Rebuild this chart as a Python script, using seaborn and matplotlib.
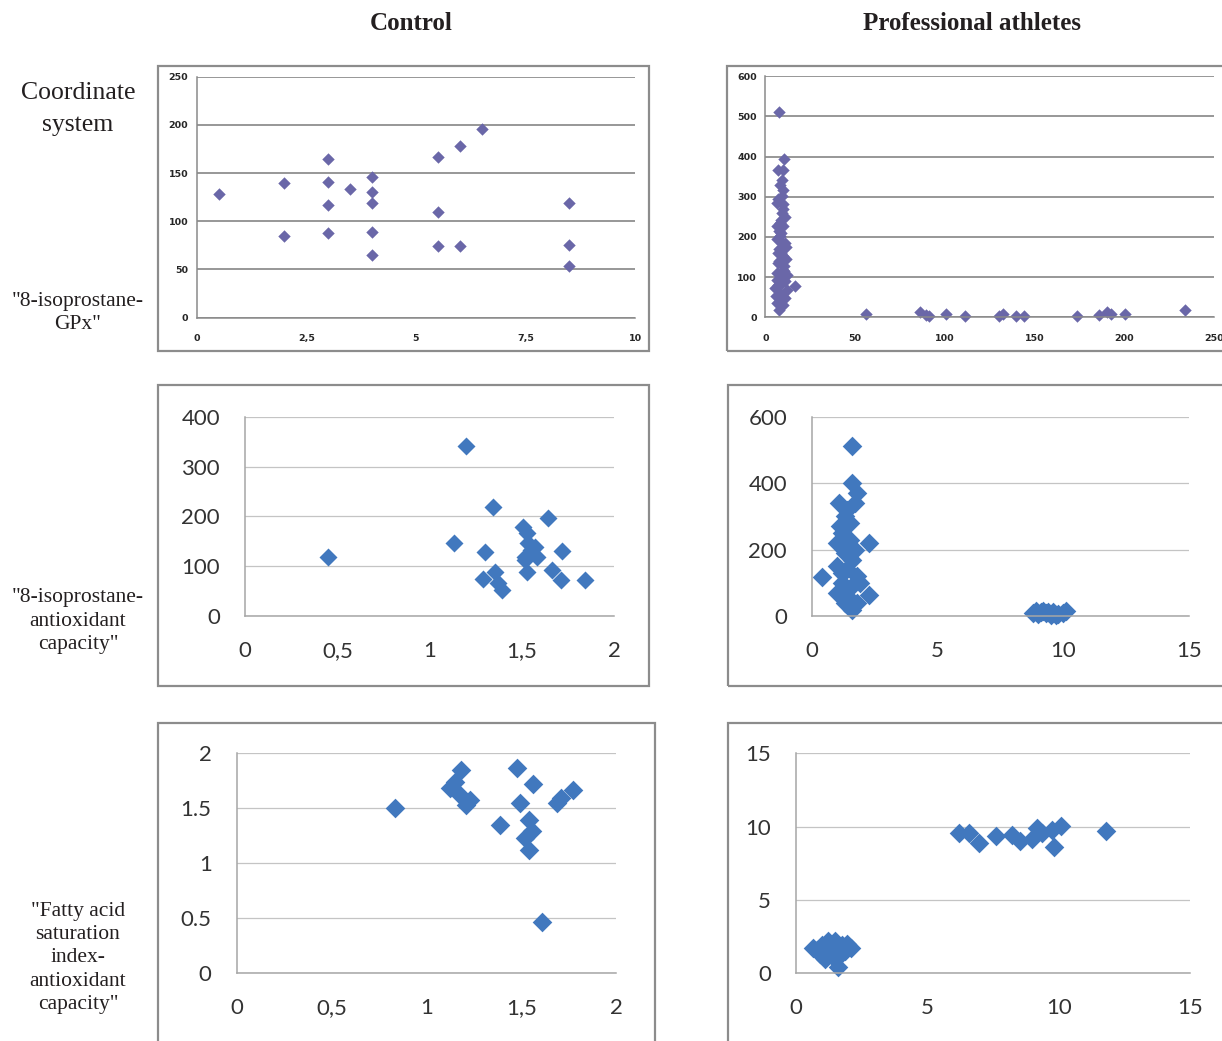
import matplotlib
matplotlib.use("Agg")
import matplotlib.pyplot as plt
import seaborn as sns
from matplotlib.patches import Rectangle

sns.set_style("white")
plt.rcParams["font.family"] = ["Lato", "DejaVu Sans"]

W, H = 1222, 1041

# --- data ---
# row 1, "8-isoprostane-GPx"
gpx_ctrl_x = [0.5, 2, 2, 3, 3, 3, 3, 3.5, 4, 4, 4, 4, 4, 5.5, 5.5, 5.5, 6, 6, 6.5, 8.5, 8.5, 8.5]
gpx_ctrl_y = [128, 140, 85, 165, 141, 117, 88, 134, 146, 130, 119, 89, 65, 167, 110, 74, 178, 74, 196, 119, 75, 54]

gpx_ath_x = [7.6, 10.6, 7.2, 10, 9.1, 9.7, 6.7, 10, 9.1, 6.3, 10, 8.2, 11, 7.8, 10, 7.2, 9.7, 11.9,
             6.7, 9.1, 16.5, 5.4, 8.2, 11, 6.7, 7.8, 11.9, 5.9, 8.6, 9.5, 7.1, 10.4, 6.3, 11.3, 7.4, 9.3,
             8.0, 9.8, 7.0, 10.8, 8.4, 9.0, 6.5, 11.5, 8.8, 7.5, 10.2, 9.4, 6.9, 10.9, 8.1, 9.6,
             56, 86, 89.6, 91, 100.7, 111.5, 130.5, 132.5, 140, 144, 174, 186, 190.5, 192.5, 200.7, 234]
gpx_ath_y = [512, 395, 367, 367, 343, 318, 285, 281, 260, 227, 227, 202, 185, 169, 152, 136, 119, 106,
             93, 85, 78, 73, 60, 48, 35, 18, 68, 52, 242, 302, 160, 127, 110, 144, 214, 185,
             330, 270, 295, 250, 235, 210, 195, 175, 160, 140, 115, 100, 80, 90, 45, 30,
             9, 12, 5, 2, 7, 4, 4, 9, 4, 4, 4, 5, 13, 7, 7, 19]

# row 2, "8-isoprostane-antioxidant capacity"
iso_ctrl_x = [0.45, 1.195, 1.345, 1.13, 1.30, 1.29, 1.354, 1.37, 1.39, 1.507, 1.525, 1.53, 1.516,
              1.55, 1.58, 1.525, 1.516, 1.64, 1.715, 1.66, 1.71, 1.84, 1.57]
iso_ctrl_y = [119, 342, 219, 147, 129, 74, 89, 66, 52, 179, 166, 146, 119, 132, 119, 89, 112, 196,
              131, 92, 72, 72, 139]

iso_ath_x = [0.4, 1.6, 1.6, 1.8, 1.06, 1.3, 1.5, 1.2, 1.0, 1.5, 2.26, 1.3, 1.6, 1.0, 1.4, 1.8, 1.2,
             1.6, 1.0, 1.4, 2.26, 1.6, 1.8, 1.3, 1.7, 1.9, 1.1, 1.4, 1.7, 1.2,
             8.8, 9.0, 9.2, 9.3, 9.5, 9.6, 9.8, 10.0, 10.1, 9.1, 8.9, 9.4, 9.7]
iso_ath_y = [118, 512, 399, 369, 339, 300, 280, 250, 220, 230, 219, 190, 170, 150, 140, 120, 100,
             90, 70, 60, 63, 18, 40, 40, 200, 100, 270, 320, 340, 130,
             10, 5, 15, 8, 3, 12, 6, 10, 14, 12, 14, 12, 2]

# row 3, "Fatty acid saturation index-antioxidant capacity"
fa_ctrl_x = [0.835, 1.183, 1.125, 1.15, 1.178, 1.21, 1.23, 1.48, 1.564, 1.494, 1.39, 1.54, 1.555,
             1.52, 1.54, 1.608, 1.687, 1.775, 1.71]
fa_ctrl_y = [1.506, 1.848, 1.688, 1.74, 1.62, 1.53, 1.58, 1.864, 1.72, 1.545, 1.35, 1.39, 1.29,
             1.23, 1.12, 0.464, 1.545, 1.667, 1.59]

fa_ath_x = [6.19, 6.57, 6.95, 7.6, 8.21, 8.53, 8.97, 9.16, 9.73, 9.8, 10.1, 11.8, 9.35,
            0.65, 0.9, 1.0, 1.2, 1.25, 1.4, 1.5, 1.6, 1.55, 1.75, 2.1, 1.85, 1.1, 1.35, 0.8, 1.65, 1.95]
fa_ath_y = [9.55, 9.55, 8.86, 9.39, 9.43, 9.02, 9.16, 9.89, 9.77, 8.64, 10.05, 9.7, 9.55,
            1.7, 1.3, 1.9, 2.2, 1.5, 1.1, 2.2, 0.45, 1.6, 1.9, 1.75, 1.5, 1.0, 1.8, 1.6, 1.2, 2.0]

col_titles = ["Control", "Professional athletes"]
row_labels = ["Coordinate\nsystem", "\"8-isoprostane-\nGPx\"",
              "\"8-isoprostane-\nantioxidant\ncapacity\"",
              "\"Fatty acid\nsaturation\nindex-\nantioxidant\ncapacity\""]

fig = plt.figure(figsize=(W / 100, H / 100), dpi=100)


def px_axes(x0, y0, x1, y1):
    return fig.add_axes([x0 / W, 1 - y1 / H, (x1 - x0) / W, (y1 - y0) / H])


def frame(x0, y0, x1, y1):
    fig.patches.append(Rectangle((x0 / W, 1 - y1 / H), (x1 - x0) / W, (y1 - y0) / H,
                                 transform=fig.transFigure, fill=False,
                                 edgecolor="#8c8c8c", lw=1.6, zorder=0))


def excel_style(ax, xlim, ylim, xticks, xlabels, yticks, ylabels, old=False):
    ax.set_xlim(xlim)
    ax.set_ylim(ylim)
    ax.set_xticks(xticks, xlabels)
    ax.set_yticks(yticks, ylabels)
    ax.set_xlabel("")
    ax.set_ylabel("")
    ax.spines["top"].set_visible(False)
    ax.spines["right"].set_visible(False)
    ax.set_axisbelow(True)
    ax.patch.set_alpha(0)
    if old:
        ax.grid(axis="y", color="#7a7a7a", lw=1.1)
        for s in ["left", "bottom"]:
            ax.spines[s].set_color("#8a8a8a")
            ax.spines[s].set_linewidth(1.1)
        ax.tick_params(direction="out", length=3, width=1, color="#8a8a8a", labelsize=6.8)
        ax.tick_params(axis="y", pad=3)
        ax.tick_params(axis="x", pad=9)
        for t in ax.get_xticklabels() + ax.get_yticklabels():
            t.set_family("DejaVu Sans")
            t.set_fontweight("bold")
    else:
        ax.grid(axis="y", color="#c4c4c4", lw=0.9)
        for s in ["left", "bottom"]:
            ax.spines[s].set_color("#a6a6a6")
            ax.spines[s].set_linewidth(1.1)
        ax.tick_params(direction="out", length=7, width=1, color="#a6a6a6",
                       labelsize=16, labelcolor="#333333", pad=11)


old_col = "#6a67a8"
new_col = "#4178be"

# row 1
frame(158, 66, 649, 351)
frame(727, 66, 1240, 351)
ax = px_axes(196.7, 76.7, 635, 317.7)
sns.scatterplot(x=gpx_ctrl_x, y=gpx_ctrl_y, ax=ax, marker="D", s=40, color=old_col, linewidth=0, clip_on=False)
excel_style(ax, (0, 10), (0, 250), [0, 2.5, 5, 7.5, 10], ["0", "2,5", "5", "7,5", "10"],
            [0, 50, 100, 150, 200, 250], ["0", "50", "100", "150", "200", "250"], old=True)

ax = px_axes(765.3, 76.3, 1213.7, 317.3)
sns.scatterplot(x=gpx_ath_x, y=gpx_ath_y, ax=ax, marker="D", s=40, color=old_col, linewidth=0, clip_on=False)
excel_style(ax, (0, 250), (0, 600), [0, 50, 100, 150, 200, 250], ["0", "50", "100", "150", "200", "250"],
            [0, 100, 200, 300, 400, 500, 600], ["0", "100", "200", "300", "400", "500", "600"], old=True)

# row 2
frame(158, 385, 649, 686)
frame(728, 385, 1240, 686)
ax = px_axes(245, 416.7, 614.3, 616)
sns.scatterplot(x=iso_ctrl_x, y=iso_ctrl_y, ax=ax, marker="D", s=84, color=new_col, linewidth=0, clip_on=False)
excel_style(ax, (0, 2), (0, 400), [0, 0.5, 1, 1.5, 2], ["0", "0,5", "1", "1,5", "2"],
            [0, 100, 200, 300, 400], ["0", "100", "200", "300", "400"])

ax = px_axes(812, 416.7, 1188.7, 616)
sns.scatterplot(x=iso_ath_x, y=iso_ath_y, ax=ax, marker="D", s=100, color=new_col, linewidth=0, clip_on=False)
excel_style(ax, (0, 15), (0, 600), [0, 5, 10, 15], ["0", "5", "10", "15"],
            [0, 200, 400, 600], ["0", "200", "400", "600"])

# row 3
frame(158, 723, 655, 1060)
frame(728, 723, 1240, 1060)
ax = px_axes(236.7, 753.3, 616, 973.3)
sns.scatterplot(x=fa_ctrl_x, y=fa_ctrl_y, ax=ax, marker="D", s=100, color=new_col, linewidth=0, clip_on=False)
excel_style(ax, (0, 2), (0, 2), [0, 0.5, 1, 1.5, 2], ["0", "0,5", "1", "1,5", "2"],
            [0, 0.5, 1, 1.5, 2], ["0", "0.5", "1", "1.5", "2"])

ax = px_axes(796, 753.3, 1190.3, 973.3)
sns.scatterplot(x=fa_ath_x, y=fa_ath_y, ax=ax, marker="D", s=100, color=new_col, linewidth=0, clip_on=False)
excel_style(ax, (0, 15), (0, 15), [0, 5, 10, 15], ["0", "5", "10", "15"],
            [0, 5, 10, 15], ["0", "5", "10", "15"])

# titles and row labels
serif = ["Liberation Serif", "DejaVu Serif"]
for txt, xc in zip(col_titles, [411, 972]):
    fig.text(xc / W, 1 - 23 / H, txt, ha="center", va="center", family=serif,
             fontweight="bold", fontsize=18, color="#231f20")

fig.text(78 / W, 1 - 109 / H, row_labels[0], ha="center", va="center", family=serif,
         fontsize=18.5, color="#231f20", linespacing=1.55)
for txt, yc in zip(row_labels[1:], [313, 621, 958]):
    fig.text(78 / W, 1 - yc / H, txt, ha="center", va="center", family=serif,
             fontsize=15.5, color="#231f20", linespacing=1.32)

fig.savefig("out.png", dpi=100)
